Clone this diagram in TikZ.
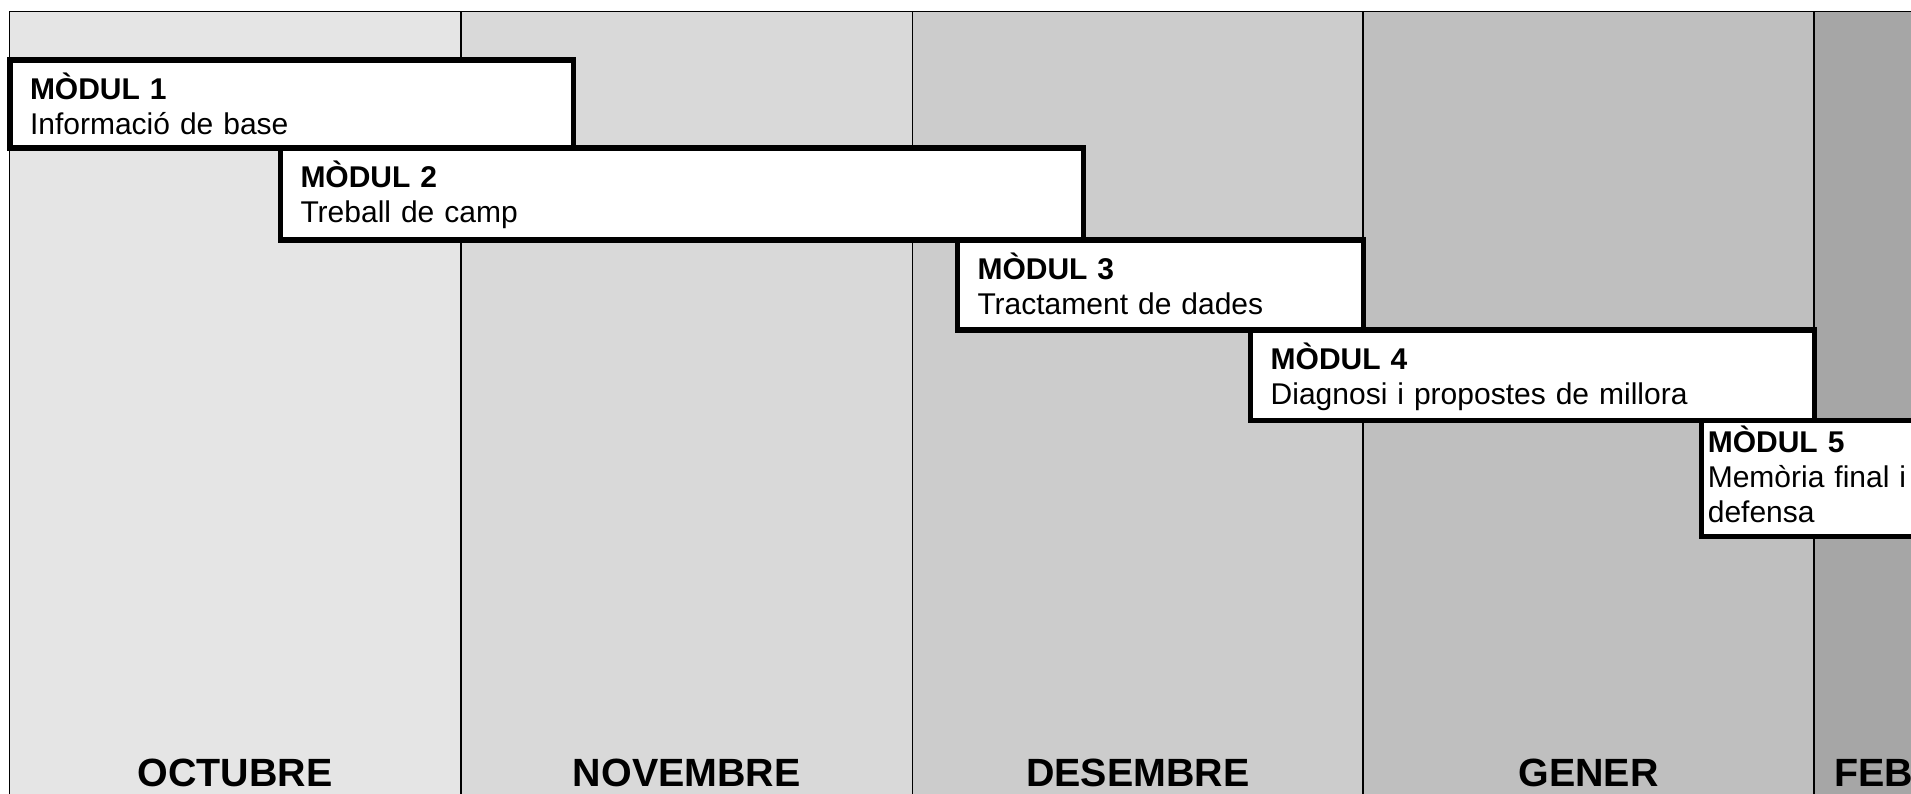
\documentclass[tikz,border=0pt]{standalone}
\usepackage{fontspec}
\setmainfont{Liberation Sans}
\tikzset{
  modbox/.style={draw, line width=2.6pt, fill=white, anchor=north west, align=left,
    outer sep=0pt, inner ysep=0pt, inner xsep=10pt, text height=19.65pt,
    font=\fontsize{15pt}{17.5pt}\selectfont},
  monthlabel/.style={anchor=base, font=\fontsize{19.7pt}{23pt}\selectfont\bfseries},
}
\begin{document}
\begin{tikzpicture}[x=0.5pt,y=-0.5pt]
\useasboundingbox (0,0) rectangle (1911,793);
\clip (0,0) rectangle (1911,793);
\fill[white] (0,0) rectangle (1911,793);
\foreach \xa/\xb/\shade in {9.3/461/90, 461/912.5/85, 912.5/1363/80, 1363/1814/75, 1814/2265/65}
  \fill[white!\shade!black] (\xa,11.7) rectangle (\xb,800);
\foreach \xx in {461,912.5,1363,1814}
  \draw[line width=0.6pt] (\xx,11.7) -- (\xx,800);
\draw[line width=0.7pt] (9.3,800) -- (9.3,11.7) -- (1920,11.7);
\node[monthlabel] (oct) at (235.2,786.5) {OCTUBRE};
\node[monthlabel] (nov) at (686.8,786.5) {NOVEMBRE};
\node[monthlabel] (des) at (1137.8,786.5) {DESEMBRE};
\node[monthlabel] (gen) at (1588.5,786.5) {GENER};
\node[monthlabel, anchor=base west] (feb) at (1827,786.5) {FEB};
\node[modbox, text width=261.75pt, text depth=24.35pt] (m1) at (10,60)
  {\textbf{MÒDUL 1}\\Informació de base};
\node[modbox, text width=381.5pt, text depth=26.35pt] (m2) at (280.5,148)
  {\textbf{MÒDUL 2}\\Treball de camp};
\node[modbox, text width=183pt, text depth=25.35pt] (m3) at (957.5,240)
  {\textbf{MÒDUL 3}\\Tractament de dades};
\node[modbox, text width=261.9pt, text depth=25.6pt] (m4) at (1250.7,330)
  {\textbf{MÒDUL 4}\\Diagnosi i propostes de millora};
\node[modbox, inner xsep=3pt, text width=219.5pt, text height=16.1pt, text depth=42.05pt] (m5) at (1701.8,420.5)
  {\textbf{MÒDUL 5}\\Memòria final i\\defensa};
\end{tikzpicture}
\end{document}
